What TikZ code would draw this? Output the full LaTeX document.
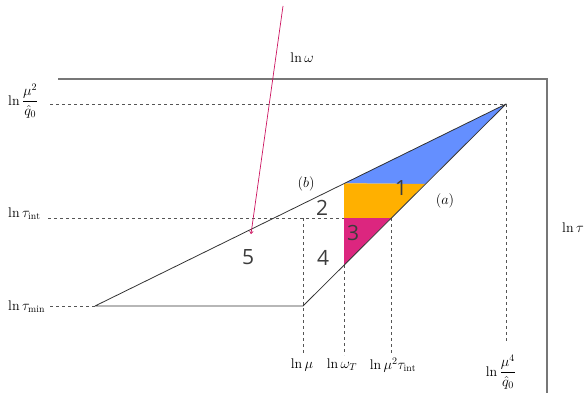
\documentclass[tikz,border=0pt]{standalone}
\usepackage{fontspec}
\usepackage{amsmath}
\newfontfamily\numfont{Open Sans}
\usetikzlibrary{arrows.meta}
\definecolor{cblue}{HTML}{648FFF}
\definecolor{corange}{HTML}{FFB000}
\definecolor{cmag}{HTML}{DC267F}
\definecolor{arrowmag}{HTML}{CC1460}
\definecolor{axisgray}{HTML}{777777}
\definecolor{dashgray}{HTML}{555555}
\definecolor{numgray}{HTML}{3C3C3C}
\tikzset{
  axisline/.style={draw=axisgray, line width=1.6pt},
  edge/.style={draw=black!80, line width=0.8pt},
  guide/.style={draw=dashgray, line width=0.8pt, dash pattern=on 3pt off 3pt},
  lbl/.style={inner sep=1pt, font=\fontsize{14}{16}\selectfont},
  num/.style={inner sep=0pt, font=\numfont\fontsize{21}{21}\selectfont, text=numgray},
}
\begin{document}
\begin{tikzpicture}[x=1pt,y=-1pt]
\useasboundingbox (0,0) rectangle (588,393);
% key points
\coordinate (L) at (95,306);
\coordinate (M) at (303,306);
\coordinate (A) at (506,104);
\coordinate (bT) at (344,183.3);
\coordinate (aT) at (425,184);
\coordinate (aI) at (391,218);
\coordinate (wI) at (344,218);
\coordinate (wB) at (344,265);
\coordinate (mI) at (303,218);
% fills
\fill[cblue] (bT) -- (aT) -- (A) -- cycle;
\fill[corange] (bT) -- (aT) -- (aI) -- (wI) -- cycle;
\fill[cmag] (wI) -- (aI) -- (wB) -- cycle;
% axes
\coordinate (ax0) at (58,79);
\coordinate (ax1) at (547,79);
\coordinate (ax2) at (547,393);
\draw[axisline] (ax0) -- (ax1) -- (ax2);
% labels on left
\node[lbl, anchor=west] (lq) at (7,101) {$\ln\dfrac{\mu^2}{\hat q_0}$};
\node[lbl, anchor=west] (lti) at (7,214) {$\ln\tau_{\mathrm{int}}$};
\node[lbl, anchor=west] (ltm) at (7,307) {$\ln\tau_{\mathrm{min}}$};
% bottom labels
\node[lbl] (bmu) at (302,365) {$\ln\mu$};
\node[lbl] (bwt) at (342,365) {$\ln\omega_T$};
\node[lbl] (bmt) at (393,365) {$\ln\mu^2\tau_{\mathrm{int}}$};
\node[lbl] (bq) at (501,372) {$\ln\dfrac{\mu^4}{\hat q_0}$};
% guides
\coordinate (g1s) at (50,104);
\coordinate (g2s) at (48,218);
\coordinate (g3s) at (50,306);
\coordinate (d1) at (303,355);
\coordinate (d2) at (344,355);
\coordinate (d3) at (391,355);
\coordinate (d4) at (506,341);
\draw[guide] (g1s) -- (A);
\draw[guide] (g2s) -- (wI);
\draw[guide] (g3s) -- (L);
\draw[guide] (mI) -- (d1);
\draw[guide] (wB) -- (d2);
\draw[guide] (aI) -- (d3);
\draw[guide] (A) -- (d4);
% outline
\draw[edge, line join=round] (L) -- (M) -- (A) -- cycle;
% line labels
\node[lbl] (lb) at (306,184) {$(b)$};
\node[lbl] (la) at (445,201) {$(a)$};
\node[lbl] (lw) at (302,58) {$\ln\omega$};
\node[lbl] (lt) at (573,228) {$\ln\tau$};
% region numbers
\node[num] (n1) at (401,188) {1};
\node[num] (n2) at (322,208) {2};
\node[num] (n3) at (353,233) {3};
\node[num] (n4) at (323,258) {4};
\node[num] (n5) at (248,257) {5};
% omega arrow
\coordinate (w0) at (283,6);
\coordinate (w1) at (251,234);
\draw[arrowmag, line width=0.7pt, -{To[length=3pt,width=4pt]}] (w0) -- (w1);
\end{tikzpicture}
\end{document}
